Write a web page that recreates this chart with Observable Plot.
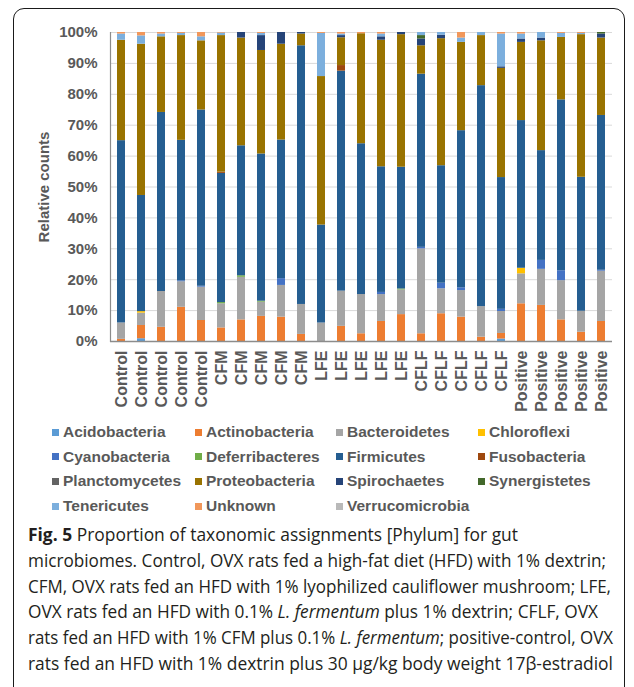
<!DOCTYPE html>
<html>
<head>
<meta charset="utf-8">
<script src="https://cdn.jsdelivr.net/npm/d3@7"></script>
<script src="https://cdn.jsdelivr.net/npm/@observablehq/plot@0.6"></script>
<style>
  html, body { margin: 0; padding: 0; background: #fff; }
  #page { position: relative; width: 634px; height: 687px; overflow: hidden; background: #fff; }
  #frame { position: absolute; left: 13px; top: 8px; width: 612px; height: 720px; border: 1.5px solid #1a1a1a; border-radius: 11px; box-sizing: border-box; }
  #chart { position: absolute; left: 0; top: 0; }
  .leg { position: absolute; font: bold 15.5px "Liberation Sans", Arial, sans-serif; color: #595959; white-space: nowrap; line-height: 18px; }
  .sw { position: absolute; width: 7px; height: 7px; }
  #caption { position: absolute; left: 28px; top: 522px; font-family: "Open Sans", "Noto Sans", sans-serif; font-size: 18px; line-height: 25.8px; color: #231f20; }
  #caption div { white-space: nowrap; width: max-content; transform-origin: 0 50%; }
</style>
</head>
<body>
<div id="page">
  <div id="frame"></div>
  <div id="chart"></div>
  <div id="legend"></div>
  <div id="caption">
    <div class="ln" data-w="490"><b>Fig. 5</b> Proportion of taxonomic assignments [Phylum] for gut</div>
    <div class="ln" data-w="578">microbiomes. Control, OVX rats fed a high-fat diet (HFD) with 1% dextrin;</div>
    <div class="ln" data-w="583">CFM, OVX rats fed an HFD with 1% lyophilized cauliflower mushroom; LFE,</div>
    <div class="ln" data-w="570">OVX rats fed an HFD with 0.1% <i>L. fermentum</i> plus 1% dextrin; CFLF, OVX</div>
    <div class="ln" data-w="585">rats fed an HFD with 1% CFM plus 0.1% <i>L. fermentum</i>; positive-control, OVX</div>
    <div class="ln" data-w="585">rats fed an HFD with 1% dextrin plus 30 μg/kg body weight 17β-estradiol</div>
  </div>
</div>
<script>
// ---- Data ----
const samples = ["Control","Control","Control","Control","Control",
                 "CFM","CFM","CFM","CFM","CFM",
                 "LFE","LFE","LFE","LFE","LFE",
                 "CFLF","CFLF","CFLF","CFLF","CFLF",
                 "Positive","Positive","Positive","Positive","Positive"];

const phyla = ["Acidobacteria","Actinobacteria","Bacteroidetes","Chloroflexi",
               "Cyanobacteria","Deferribacteres","Firmicutes","Fusobacteria",
               "Planctomycetes","Proteobacteria","Spirochaetes","Synergistetes",
               "Tenericutes","Unknown","Verrucomicrobia"];

const phylumColors = ["#5B9BD5","#ED7D31","#A5A5A5","#FFC000",
                      "#4472C4","#70AD47","#255E91","#9E480E",
                      "#636363","#997300","#264478","#43682B",
                      "#7CAFDD","#F1975A","#B9B9B9"];

const acidobacteria   = [0,0.9,0,0,0, 0,0,0,0,0, 0,0,0,0,0, 0,0,0,0,0.8, 0,0,0,0,0];
const actinobacteria  = [0.7,4.3,4.6,11.1,6.8, 4.4,7,8.1,7.9,2.3, 0,4.9,2.5,6.5,8.7, 2.5,9,7.9,1.4,1.8, 12.2,11.7,7,3,6.5];
const bacteroidetes   = [5.3,4,11.6,8.3,10.8, 7.8,13.8,4.6,10.3,9.7, 6,11.4,12.7,8.7,8, 27.5,8.1,8.6,9.9,7.1, 9.7,11.7,12.7,6.8,16.3];
const chloroflexi     = [0,0.5,0,0,0, 0,0,0,0,0, 0,0,0,0,0, 0,0,0,0,0, 1.8,0,0,0,0];
const cyanobacteria   = [0,0,0,0.3,0.3, 0,0,0,2.2,0, 0,0,0,0.7,0, 0.5,1.8,0.9,0,0.7, 0,2.9,3.2,0,0.3];
const deferribacteres = [0,0,0,0,0, 0.4,0.5,0.3,0,0, 0,0,0,0,0.3, 0,0,0,0,0, 0,0,0,0,0];
const firmicutes      = [59,37.7,58,45.6,57.1, 41.8,42.1,47.5,45,83.8, 31.8,71.2,48.8,40.7,39.4, 56.1,38.1,50.9,71.5,42.6, 47.8,35.6,55.3,43.4,50.2];
const fusobacteria    = [0,0,0,0,0, 0.4,0,0,0,0, 0,1.8,0,0,0, 0,0,0,0,0, 0,0,0,0,0];
const planctomycetes  = [0,0,0,0,0, 0,0,0,0,0, 0,0,0,0,0, 0,0,0,0,0, 0,0,0,0,0];
const proteobacteria  = [32.5,49.1,24.5,34,22.4, 44.2,34.9,33.4,31.1,3.8, 48.2,9,35.6,41,42.9, 9.2,41.2,28.6,16.2,35.3, 25.3,35.6,20.2,46.2,25.1];
const spirochaetes    = [0,0,0,0,0, 0,1.8,4.8,3.8,0.5, 0,0.7,0,1.1,0.7, 2.2,1.1,0,0,0.5, 1.1,0.9,0,0,1.3];
const synergistetes   = [0,0,0,0,0, 0,0,0,0,0, 0,0,0,0,0, 1.1,0,0,0,0, 0,0,0,0,0.5];
const tenericutes     = [2,2.7,0.9,0.7,1.3, 0.8,0,0.7,0,0, 14,0.5,0,0.9,0, 1,0.9,1.4,1,10.6, 1.6,1.8,1.3,0.4,0];
const unknown         = [0.5,1.1,0.5,0.3,1.4, 0.2,0,0.3,0,0, 0.3,0.5,0.4,0.5,0, 0,0,1.8,0,0.5, 0.5,0,0.3,0.3,0];
const verrucomicrobia = [0,0,0,0,0, 0,0,0,0,0, 0,0,0,0,0, 0,0,0,0,0, 0,0,0,0,0];

const yTicks = [0,0.1,0.2,0.3,0.4,0.5,0.6,0.7,0.8,0.9,1];

// ---- Build table ----
const series = [acidobacteria, actinobacteria, bacteroidetes, chloroflexi, cyanobacteria,
                deferribacteres, firmicutes, fusobacteria, planctomycetes, proteobacteria,
                spirochaetes, synergistetes, tenericutes, unknown, verrucomicrobia];
const rows = [];
phyla.forEach((p, k) => {
  series[k].forEach((v, i) => rows.push({sample: i, phylum: p, value: v}));
});

const chart = Plot.plot({
  width: 634,
  height: 420,
  marginLeft: 110,
  marginRight: 22,
  marginTop: 32,
  marginBottom: 79,
  style: {fontFamily: '"Liberation Sans", Arial, sans-serif', fontWeight: "bold", fontSize: "15px", color: "#595959", background: "transparent"},
  x: {domain: d3.range(samples.length), paddingInner: 0.6, paddingOuter: 0.3},
  y: {domain: [0, 1]},
  color: {domain: phyla, range: phylumColors},
  marks: [
    Plot.gridY(yTicks, {stroke: "#d9d9d9", strokeOpacity: 1}),
    Plot.barY(rows, Plot.stackY({offset: "normalize", order: null}, {x: "sample", y: "value", fill: "phylum", z: "phylum"})),
    Plot.ruleY([0], {stroke: "#8c8c8c", strokeWidth: 1.5}),
    Plot.frame({anchor: "left", stroke: "#8c8c8c", strokeWidth: 1.2}),
    Plot.axisY(yTicks, {tickSize: 0, tickPadding: 13, tickFormat: d3.format(".0%"), label: "Relative counts", labelAnchor: "center", labelOffset: 72, labelArrow: "none", fontSize: 15}),
    Plot.axisX({tickSize: 0, tickPadding: 9, tickRotate: -90, tickFormat: i => samples[i], label: null, fontSize: 16})
  ]
});
document.getElementById("chart").appendChild(chart);

// ---- Legend ----
const legend = document.getElementById("legend");
const colSw = [52, 195, 336, 478];
const rowY = [432, 456.7, 481.3, 506];
phyla.forEach((p, k) => {
  const c = k % 4, r = Math.floor(k / 4);
  const sw = document.createElement("div");
  sw.className = "sw";
  sw.style.left = colSw[c] + "px";
  sw.style.top = (rowY[r] - 3.5) + "px";
  sw.style.background = phylumColors[k];
  legend.appendChild(sw);
  const t = document.createElement("div");
  t.className = "leg";
  t.textContent = p;
  t.style.left = (colSw[c] + 11) + "px";
  t.style.top = (rowY[r] - 9) + "px";
  legend.appendChild(t);
});

// ---- Caption: fit each line to the width it has in the figure ----
document.querySelectorAll("#caption .ln").forEach(el => {
  const w = el.getBoundingClientRect().width;
  el.style.transform = `scaleX(${(+el.dataset.w) / w})`;
});
</script>
</body>
</html>
